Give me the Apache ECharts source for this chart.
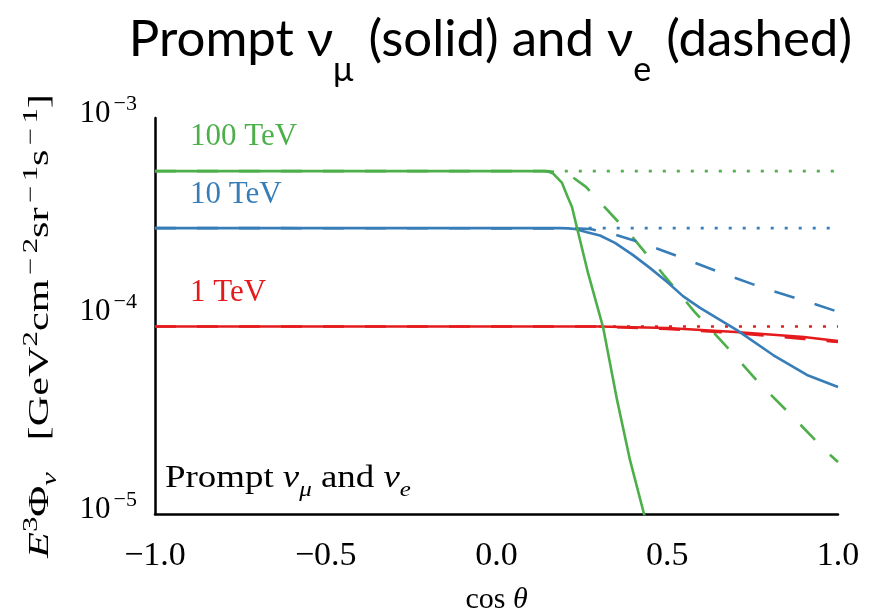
<!DOCTYPE html>
<html>
<head>
<meta charset="utf-8">
<script src="https://cdn.jsdelivr.net/npm/echarts@6/dist/echarts.min.js"></script>
<style>
  html, body { margin: 0; padding: 0; background: #fff; }
  #chart { width: 877px; height: 613px; }
</style>
</head>
<body>
<div id="chart"></div>
<script>
// cos(theta) sample points and E^3 flux values
const cosGreenSolid = [-1, 0.142, 0.155, 0.166, 0.192, 0.207, 0.221, 0.236, 0.268, 0.312, 0.353, 0.391, 0.432, 0.46]
const fluxGreenSolid = [5.39e-4, 5.39e-4, 5.34e-4, 5.24e-4, 4.70e-4, 4.05e-4, 3.55e-4, 2.78e-4, 1.65e-4, 8.79e-5, 3.77e-5, 1.87e-5, 1.0e-5, 6.5e-6]

const cosGreenDashed = [-1, 0.148, 0.206, 0.262, 0.40, 0.49, 0.58, 0.675, 0.766, 0.865, 0.962, 1.0]
const fluxGreenDashed = [5.39e-4, 5.39e-4, 5.27e-4, 4.49e-4, 2.48e-4, 1.61e-4, 1.05e-4, 6.97e-5, 4.64e-5, 3.13e-5, 2.10e-5, 1.83e-5]

const cosGreenDotted = [0.2, 1.0]
const fluxGreenDotted = [5.39e-4, 5.39e-4]

const cosBlueSolid = [-1, 0.186, 0.210, 0.230, 0.265, 0.303, 0.347, 0.400, 0.449, 0.499, 0.546, 0.596, 0.704, 0.810, 0.909, 1.0]
const fluxBlueSolid = [2.78e-4, 2.78e-4, 2.77e-4, 2.75e-4, 2.65e-4, 2.55e-4, 2.34e-4, 2.03e-4, 1.75e-4, 1.49e-4, 1.26e-4, 1.10e-4, 8.49e-5, 6.35e-5, 5.04e-5, 4.38e-5]

const cosBlueDashed = [-1, 0.230, 0.274, 0.332, 0.426, 0.546, 0.666, 0.789, 0.912, 1.0]
const fluxBlueDashed = [2.78e-4, 2.77e-4, 2.75e-4, 2.62e-4, 2.34e-4, 1.96e-4, 1.63e-4, 1.37e-4, 1.18e-4, 1.05e-4]

const cosBlueDotted = [0.27, 1.0]
const fluxBlueDotted = [2.78e-4, 2.78e-4]

const cosRedSolid = [-1, 0.3, 0.5, 0.7, 0.9, 1.0]
const fluxRedSolid = [8.85e-5, 8.85e-5, 8.69e-5, 8.30e-5, 7.83e-5, 7.48e-5]

const cosRedDashed = [-1, 0.3, 0.5, 0.7, 0.9, 1.0]
const fluxRedDashed = [8.85e-5, 8.85e-5, 8.59e-5, 8.20e-5, 7.66e-5, 7.40e-5]

const cosRedDotted = [0.3, 1.0]
const fluxRedDotted = [8.85e-5, 8.85e-5]

const xTicks = [-1.0, -0.5, 0.0, 0.5, 1.0]
const energyLabels = ['100 TeV', '10 TeV', '1 TeV']

const GREEN = '#4daf4a'
const BLUE = '#377eb8'
const RED = '#e41a1c'
const SERIF = '"Liberation Serif", "DejaVu Serif", serif'

const pairs = (xs, ys) => xs.map((x, i) => [x, ys[i]])

const mkLine = (xs, ys, color, dash) => ({
    type: 'line',
    data: pairs(xs, ys),
    showSymbol: false,
    smooth: false,
    clip: true,
    lineStyle: { color: color, width: 2.6, type: dash },
    z: dash === 'solid' ? 4 : 3
})

const chart = echarts.init(document.getElementById('chart'))

chart.setOption({
    animation: false,
    backgroundColor: '#fff',
    title: {
        text: 'Prompt ν{s|μ} (solid) and ν{s|e} (dashed)',
        right: 20,
        top: 2,
        textStyle: {
            fontFamily: 'Lato, "Open Sans", sans-serif',
            fontSize: 51,
            fontWeight: 'normal',
            color: '#000',
            lineHeight: 66,
            rich: {
                s: { fontFamily: 'Lato, sans-serif', fontSize: 34, color: '#000', verticalAlign: 'bottom', lineHeight: 34, padding: [0, 2, -14, 0] }
            }
        }
    },
    grid: { left: 155, right: 39, top: 118, bottom: 99, containLabel: false, outerBoundsMode: 'none' },
    xAxis: {
        type: 'value',
        min: -1,
        max: 1,
        interval: 0.5,
        name: 'cos {i|θ}',
        nameLocation: 'middle',
        nameGap: 71,
        nameTextStyle: {
            fontFamily: SERIF, fontSize: 30, color: '#000',
            rich: { i: { fontFamily: SERIF, fontSize: 30, fontStyle: 'italic', color: '#000' } }
        },
        axisLine: { show: true, onZero: false, lineStyle: { color: '#000', width: 2.5 } },
        axisTick: { show: false },
        splitLine: { show: false },
        axisLabel: {
            margin: 25,
            fontFamily: SERIF,
            fontSize: 34,
            color: '#000',
            formatter: v => {
                const t = xTicks.find(k => Math.abs(k - v) < 1e-9)
                if (t === undefined) return ''
                return (t < 0 ? '\u2212' : '') + Math.abs(t).toFixed(1)
            }
        }
    },
    yAxis: {
        type: 'log',
        logBase: 10,
        min: 1e-5,
        max: 1e-3,
        axisLine: { show: true, onZero: false, lineStyle: { color: '#000', width: 2.5 } },
        axisTick: { show: false },
        splitLine: { show: false },
        axisLabel: {
            margin: 18,
            formatter: v => '{b|10}{e|\u2212' + Math.round(-Math.log10(v)) + '}',
            rich: {
                b: { fontFamily: SERIF, fontSize: 31, color: '#000', verticalAlign: 'bottom', lineHeight: 30, padding: [0, 0, 4, 0] },
                e: { fontFamily: SERIF, fontSize: 22, color: '#000', verticalAlign: 'bottom', lineHeight: 22, padding: [0, 0, 18, 3] }
            }
        }
    },
    graphic: [
        {
            // y axis title, drawn as rotated text
            type: 'text', x: 40, y: 326, rotation: Math.PI / 2, scaleX: 1.46,
            style: {
                text: '{i|E}{p|3}{n|Φ}{q|ν}{n|   [GeV}{p|2}{n|cm}{m|−}{p|2}{n|sr}{m|−}{p|1}{n|s}{m|−}{p|1}{n|]}',
                align: 'center',
                verticalAlign: 'middle',
                rich: {
                    n: { fontFamily: SERIF, fontSize: 29, fill: '#000', verticalAlign: 'bottom', lineHeight: 29 },
                    i: { fontFamily: SERIF, fontSize: 29, fontStyle: 'italic', fill: '#000', verticalAlign: 'bottom', lineHeight: 29 },
                    p: { fontFamily: SERIF, fontSize: 21, fill: '#000', verticalAlign: 'bottom', lineHeight: 21, padding: [0, 0, 13, 0] },
                    m: { fontFamily: SERIF, fontSize: 21, fill: '#000', verticalAlign: 'bottom', lineHeight: 21, padding: [0, 3, 13, 3] },
                    q: { fontFamily: SERIF, fontSize: 21, fontStyle: 'italic', fill: '#000', verticalAlign: 'bottom', lineHeight: 21, padding: [0, 0, -6, 0] }
                }
            }
        },
        { type: 'text', left: 190, top: 121, style: { text: energyLabels[0], fill: GREEN, font: '31px ' + SERIF } },
        { type: 'text', left: 190, top: 179, style: { text: energyLabels[1], fill: BLUE, font: '31px ' + SERIF } },
        { type: 'text', left: 190, top: 277, style: { text: energyLabels[2], fill: RED, font: '31px ' + SERIF } },
        {
            type: 'text', x: 165, y: 463, scaleX: 1.19,
            style: {
                text: '{n|Prompt }{i|ν}{s|μ}{n| and }{i|ν}{s|e}',
                rich: {
                    n: { fontFamily: SERIF, fontSize: 31, fill: '#000', verticalAlign: 'bottom', lineHeight: 31 },
                    i: { fontFamily: SERIF, fontSize: 31, fontStyle: 'italic', fill: '#000', verticalAlign: 'bottom', lineHeight: 31 },
                    s: { fontFamily: SERIF, fontSize: 21, fontStyle: 'italic', fill: '#000', verticalAlign: 'bottom', lineHeight: 21, padding: [0, 0, -7, 0] }
                }
            }
        }
    ],
    series: [
        mkLine(cosGreenDotted, fluxGreenDotted, GREEN, [3, 11]),
        mkLine(cosBlueDotted, fluxBlueDotted, BLUE, [3, 11]),
        mkLine(cosRedDotted, fluxRedDotted, RED, [3, 11]),
        mkLine(cosGreenDashed, fluxGreenDashed, GREEN, [21, 21]),
        mkLine(cosBlueDashed, fluxBlueDashed, BLUE, [21, 21]),
        mkLine(cosRedDashed, fluxRedDashed, RED, [21, 21]),
        mkLine(cosRedSolid, fluxRedSolid, RED, 'solid'),
        mkLine(cosBlueSolid, fluxBlueSolid, BLUE, 'solid'),
        mkLine(cosGreenSolid, fluxGreenSolid, GREEN, 'solid')
    ]
})
</script>
</body>
</html>
